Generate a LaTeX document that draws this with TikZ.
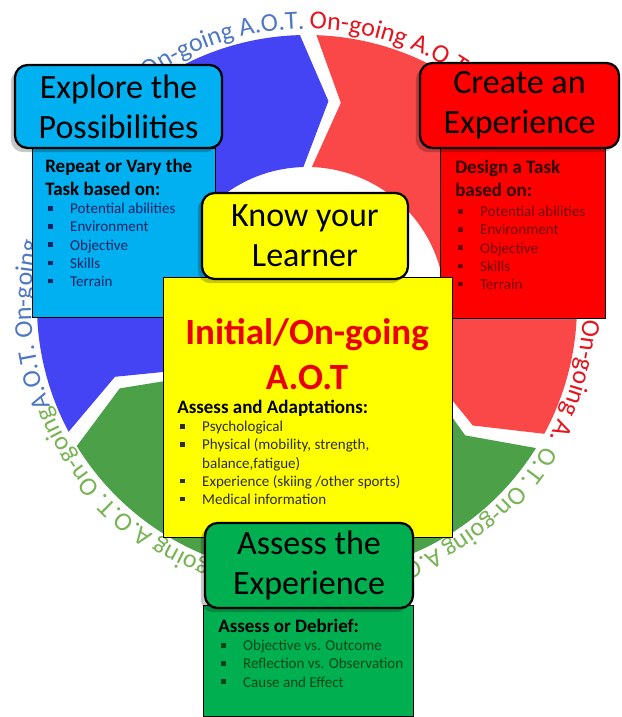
\documentclass[tikz,border=0pt]{standalone}
\usepackage{fontspec}
\setmainfont{Carlito}
\usetikzlibrary{decorations.text, shadows}

\definecolor{ringblue}{RGB}{68,68,245}
\definecolor{ringred}{RGB}{250,72,72}
\definecolor{ringgreen}{RGB}{76,160,72}
\definecolor{aotblue}{RGB}{79,120,195}
\definecolor{aotred}{RGB}{230,20,30}
\definecolor{aotgreen}{RGB}{120,180,85}
\definecolor{boxcyan}{RGB}{0,176,240}
\definecolor{boxred}{RGB}{255,0,0}
\definecolor{boxyellow}{RGB}{255,255,0}
\definecolor{boxgreen}{RGB}{0,176,80}
\definecolor{navytext}{RGB}{15,35,100}
\definecolor{maroontext}{RGB}{110,0,0}
\definecolor{darkredtext}{RGB}{45,0,0}
\definecolor{darkgreentext}{RGB}{0,70,25}
\definecolor{greytext}{RGB}{45,45,45}
\definecolor{titlered}{RGB}{235,0,0}

\newcommand{\ringfont}{\fontsize{18.5}{20}\selectfont}
\newcommand{\sqitem}[1]{\makebox[15.6pt][l]{\rule[0.2em]{0.3em}{0.3em}}#1}

\tikzset{
  headbox/.style={draw=black, line width=1.6pt, rounded corners=9pt, align=center,
    font=\fontsize{24.2}{28.5}\selectfont, inner sep=0pt,
    drop shadow={shadow xshift=-3pt, shadow yshift=-3pt, opacity=.22, fill=black}},
  bodybox/.style={draw=black, line width=.6pt, inner sep=0pt},
  bodyhead/.style={anchor=north west, inner sep=0pt, align=left,
    font=\bfseries\fontsize{13.5}{16.4}\selectfont},
  bodylist/.style={anchor=north west, inner sep=0pt, align=left,
    font=\fontsize{10.7}{12.9}\selectfont}
}

\begin{document}
\begin{tikzpicture}[x=0.025cm, y=0.025cm]
  \useasboundingbox (0,0) rectangle (622,717);

  %%%% cycle ring
  \begin{scope}[shift={(307,412)}]
    \foreach \bs/\col in {204/ringblue, 84/ringred, -36/ringgreen}{
      \pgfmathsetmacro{\be}{\bs-120}
      \fill[\col] ({\bs+4}:270) arc[start angle=\bs+4, end angle=\be+7.5, radius=270]
        -- (\be:205) -- ({\be+7.5}:138)
        arc[start angle=\be+7.5, end angle=\bs+4, radius=138]
        -- ({\bs-3.5}:205) -- cycle;
    }

    %%%% on-going text round the ring
    \path[decorate, decoration={text along path, text color=aotblue,
      text={|\ringfont|A.O.T. On-going}}]
      (201.5:276) arc[start angle=201.5, end angle=150, radius=276];
    \path[decorate, decoration={text along path, text color=aotblue, text align=right,
      text={|\ringfont|On-going A.O.T.}}]
      (140:276) arc[start angle=140, end angle=90.5, radius=276];
    \path[decorate, decoration={text along path, text color=aotred,
      text={|\ringfont|On-going A.O.T}}]
      (89.5:276) arc[start angle=89.5, end angle=40, radius=276];
    \path[decorate, decoration={text along path, text color=aotred,
      text={|\ringfont|On-going A.}}]
      (-3:276) arc[start angle=-3, end angle=-40, radius=276];
    \path[decorate, decoration={text along path, text color=aotgreen,
      text={|\ringfont|O.T. On-going A.O.T}}]
      (-30.5:276) arc[start angle=-30.5, end angle=-85, radius=276];
    \path[decorate, decoration={text along path, text color=aotgreen, text align=right,
      text={|\ringfont|On-going A.O.T. On-going}}]
      (-95:276) arc[start angle=-95, end angle=-158.5, radius=276];
  \end{scope}

  %%%% explore
  \node[bodybox, fill=boxcyan, minimum width=4.575cm, minimum height=4.225cm] (explBody) at (123.5,484.5) {};
  \node[headbox, fill=boxcyan, minimum width=5.175cm, minimum height=2.075cm] (explHead) at (118.5,610.5) {Explore the\\Possibilities};
  \node[bodyhead] (explTask) at (45,558) {Repeat or Vary the\\Task based on:};
  \node[bodylist, text=navytext] (explList) at (48,514)
    {\sqitem{Potential abilities}\\\sqitem{Environment}\\\sqitem{Objective}\\\sqitem{Skills}\\\sqitem{Terrain}};

  %%%% create
  \node[bodybox, fill=boxred, minimum width=4.125cm, minimum height=4.25cm] (createBody) at (522.5,484) {};
  \node[headbox, fill=boxred, minimum width=4.975cm, minimum height=2.125cm] (createHead) at (519.5,611.5) {Create an\\Experience};
  \node[bodyhead, text=darkredtext] (createTask) at (455,557) {Design a Task\\based on:};
  \node[bodylist, text=maroontext] (createList) at (458,511)
    {\sqitem{Potential abilities}\\\sqitem{Environment}\\\sqitem{Objective}\\\sqitem{Skills}\\\sqitem{Terrain}};

  %%%% initial assessment
  \node[bodybox, fill=boxyellow, minimum width=7.225cm, minimum height=6.5cm] (aotBox) at (307.5,310) {};
  \node[font=\bfseries\fontsize{26.3}{32}\selectfont, text=titlered, align=center] (aotTitle) at (307,362.5) {Initial/On-going\\A.O.T};
  \node[bodyhead] (aotAssess) at (177,317) {Assess and Adaptations:};
  \node[bodylist, text=greytext] (aotList) at (180,296)
    {\sqitem{Psychological}\\\sqitem{Physical (mobility, strength,}\\\hspace*{15.6pt}balance,fatigue)\\\sqitem{Experience (skiing /other sports)}\\\sqitem{Medical information}};
  \node[headbox, fill=boxyellow, minimum width=5.15cm, minimum height=2.15cm] (knowHead) at (305,481) {Know your\\Learner};

  %%%% assess
  \node[bodybox, fill=boxgreen, minimum width=5.25cm, minimum height=2.775cm] (assessBody) at (308,56.5) {};
  \node[headbox, fill=boxgreen, minimum width=5.2cm, minimum height=2.125cm] (assessHead) at (309,151.5) {Assess the\\Experience};
  \node[bodyhead] (assessTask) at (218,98) {Assess or Debrief:};
  \node[bodylist, text=darkgreentext] (assessList) at (221,77)
    {\sqitem{Objective vs. Outcome}\\\sqitem{Reflection vs. Observation}\\\sqitem{Cause and Effect}};
\end{tikzpicture}
\end{document}
